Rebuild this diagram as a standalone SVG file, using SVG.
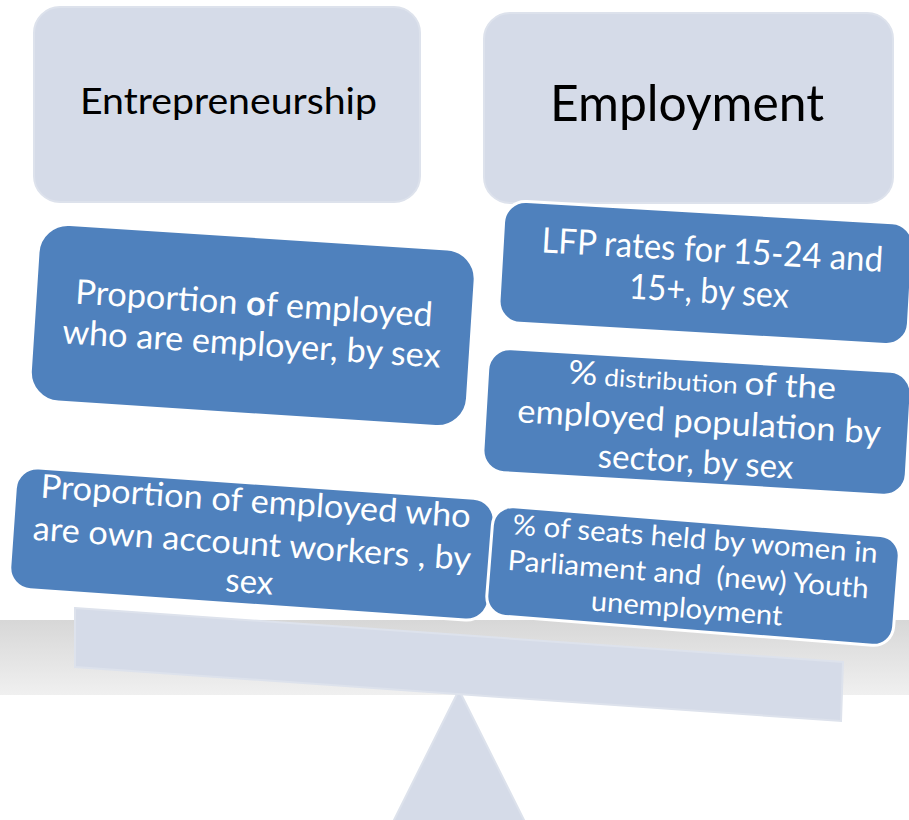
<svg xmlns="http://www.w3.org/2000/svg" width="909" height="820" viewBox="0 0 909 820">
<defs>
<linearGradient id="band" x1="0" y1="0" x2="0" y2="1">
<stop offset="0" stop-color="#d7d7d7"/>
<stop offset="1" stop-color="#f0f0f0"/>
</linearGradient>
<style>
.light{fill:#d5dbe8;stroke:#dde2ec;stroke-width:2}
.blue{fill:#4f81bd;stroke:#ffffff;stroke-width:3}
.t{font-family:Lato,"Open Sans",sans-serif;fill:#ffffff;text-anchor:middle}
.h{font-family:Lato,"Open Sans",sans-serif;fill:#000000;text-anchor:middle}
</style>
</defs>
<rect x="0" y="0" width="909" height="820" fill="#ffffff"/>
<rect x="0" y="620" width="909" height="75" fill="url(#band)"/>
<g id="fulcrum">
<polygon points="459,690 393,822 525,822" class="light"/>
</g>
<g id="beam">
<polygon points="75,608 843,662 841,721 75,667" class="light"/>
</g>
<g id="entrepreneurship">
<rect x="34" y="7" width="386" height="195" rx="26" class="light"/>
<text x="228.5" y="114" class="h" font-size="36" textLength="297" lengthAdjust="spacingAndGlyphs">Entrepreneurship</text>
</g>
<g id="employment">
<rect x="484" y="13" width="409" height="190" rx="26" class="light"/>
<text x="687" y="121" class="h" font-size="50" textLength="274" lengthAdjust="spacingAndGlyphs">Employment</text>
</g>
<g id="lfp" transform="translate(706,273) rotate(3.3)">
<rect x="-205" y="-61" width="410" height="122" rx="22" class="blue"/>
<text x="5" y="-11.3" class="t" font-size="35" textLength="342" lengthAdjust="spacingAndGlyphs">LFP rates for 15-24 and</text>
<text x="4" y="29.8" class="t" font-size="35" textLength="160" lengthAdjust="spacingAndGlyphs">15+, by sex</text>
</g>
<g id="distribution" transform="translate(697,422) rotate(3.4)">
<rect x="-212" y="-62" width="424" height="124" rx="22" class="blue"/>
<text x="2.7" y="-30.7" class="t" font-size="32" textLength="268" lengthAdjust="spacingAndGlyphs"><tspan font-size="33">%</tspan><tspan font-size="24"> distribution </tspan><tspan>of the</tspan></text>
<text x="2.2" y="10.9" class="t" font-size="33" textLength="364" lengthAdjust="spacingAndGlyphs">employed population by</text>
<text x="1" y="51" class="t" font-size="33" textLength="196" lengthAdjust="spacingAndGlyphs">sector, by sex</text>
</g>
<g id="employer" transform="translate(252.75,325.5) rotate(3.7)">
<rect x="-219" y="-89" width="438" height="178" rx="30" class="blue"/>
<text x="0" y="-10.5" class="t" font-size="34" textLength="358" lengthAdjust="spacingAndGlyphs">Proportion <tspan font-weight="bold">o</tspan>f employed</text>
<text x="0" y="30" class="t" font-size="34" textLength="379" lengthAdjust="spacingAndGlyphs">who are employer, by sex</text>
</g>
<g id="own-account" transform="translate(252,544) rotate(4)">
<rect x="-240" y="-61" width="480" height="122" rx="22" class="blue"/>
<text x="0.8" y="-31.6" class="t" font-size="33" textLength="431" lengthAdjust="spacingAndGlyphs">Proportion of employed who</text>
<text x="0" y="11" class="t" font-size="33" textLength="439" lengthAdjust="spacingAndGlyphs">are own account workers , by</text>
<text x="0" y="49" class="t" font-size="33">sex</text>
</g>
<g id="seats" transform="translate(693,576) rotate(4.5)">
<rect x="-204" y="-55" width="408" height="110" rx="20" class="blue"/>
<text x="-0.7" y="-27.5" class="t" font-size="28" textLength="366" lengthAdjust="spacingAndGlyphs">% of seats held by women in</text>
<text x="-4.9" y="8.4" class="t" font-size="28" textLength="362" lengthAdjust="spacingAndGlyphs" xml:space="preserve">Parliament and  (new) Youth</text>
<text x="-3.7" y="42.4" class="t" font-size="28" textLength="192" lengthAdjust="spacingAndGlyphs">unemployment</text>
</g>
<g id="connectors"></g>
</svg>
